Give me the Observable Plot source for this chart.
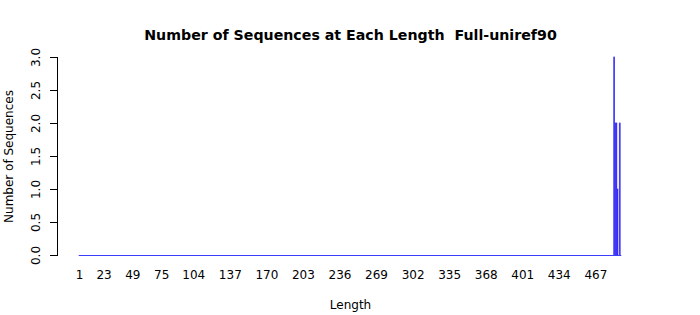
<!DOCTYPE html>
<html>
<head>
<meta charset="utf-8">
<script src="https://cdn.jsdelivr.net/npm/d3@7"></script>
<script src="https://cdn.jsdelivr.net/npm/@observablehq/plot@0.6"></script>
<style>
  html, body { margin: 0; padding: 0; background: #fff; }
  #chart { width: 700px; height: 315px; }
</style>
</head>
<body>
<div id="chart"></div>
<script>
// ---- data ----
const minLength = 1;
const maxLength = 490;
const lengths = d3.range(minLength, maxLength + 1);           // category axis: every length
const nonzeroLengths = [484, 485, 486, 487, 489];             // lengths with sequences
const nonzeroCounts  = [3, 2, 2, 1, 2];                       // counts at those lengths
const xTickLabels = [1, 23, 49, 75, 104, 137, 170, 203, 236, 269, 302, 335, 368, 401, 434, 467];
const yTicks = [0, 0.5, 1, 1.5, 2, 2.5, 3];

const titleText = "Number of Sequences at Each Length  Full-uniref90";
const xTitle = "Length";
const yTitle = "Number of Sequences";

// ---- table ----
const countMap = new Map(nonzeroLengths.map((l, i) => [l, nonzeroCounts[i]]));
const data = lengths.map(l => ({len: l, count: countMap.get(l) || 0}));
const bars = data.filter(d => d.count > 0);

// R barplot-like geometry (width 1, space 0.2, 4% axis extension), in bar-index units
const n = lengths.length;
const half = 0.5 / 1.2;
const ext = 0.04 * (n * 1.2 - 0.2) / 1.2;
const xDomain = [minLength - half - ext, maxLength + half + ext];

const font = "DejaVu Sans, sans-serif";
const fill = "#3300cc";
const stroke = "#3c3cff";

const chart = Plot.plot({
  width: 700,
  height: 315,
  marginLeft: 57,
  marginRight: 57,
  marginTop: 57,
  marginBottom: 60,
  style: {fontFamily: font, fontSize: "12px", background: "#fff", color: "#000"},
  x: {type: "linear", domain: xDomain, axis: null},
  y: {domain: [0, 3], axis: null},
  marks: [
    // zero-height bars drawn as their border line
    Plot.ruleY([0], {x1: d3.min(lengths) - half, x2: d3.max(lengths) + half, stroke: stroke, strokeWidth: 1}),
    Plot.rectY(bars, {
      x1: d => d.len - half, x2: d => d.len + half,
      y1: 0, y2: "count",
      fill: fill, stroke: stroke, strokeWidth: 0.7
    }),
    // y axis line and ticks
    Plot.frame({anchor: "left", stroke: "#000"}),
    Plot.axisY({ticks: yTicks, tickSize: 7, tickFormat: () => "", label: null, stroke: "#000"}),
    Plot.text(yTicks, {y: d => d, text: d => d.toFixed(1), frameAnchor: "left", dx: -21, rotate: -90, textAnchor: "middle", lineAnchor: "middle", fontSize: 12, fill: "#000"}),
    // x tick labels
    Plot.text(xTickLabels, {x: d => d, text: d => String(d), frameAnchor: "bottom", dy: 23, fontSize: 12, fill: "#000"}),
    // titles
    Plot.text([xTitle], {frameAnchor: "bottom", dy: 53, fontSize: 12, fill: "#000"}),
    Plot.text([yTitle], {frameAnchor: "left", dx: -48, rotate: -90, textAnchor: "middle", lineAnchor: "middle", fontSize: 12, fill: "#000"}),
    Plot.text([titleText], {frameAnchor: "top", dy: -28, fontSize: 14.2, fontWeight: "bold", fill: "#000"})
  ]
});
document.getElementById("chart").appendChild(chart);
</script>
</body>
</html>
